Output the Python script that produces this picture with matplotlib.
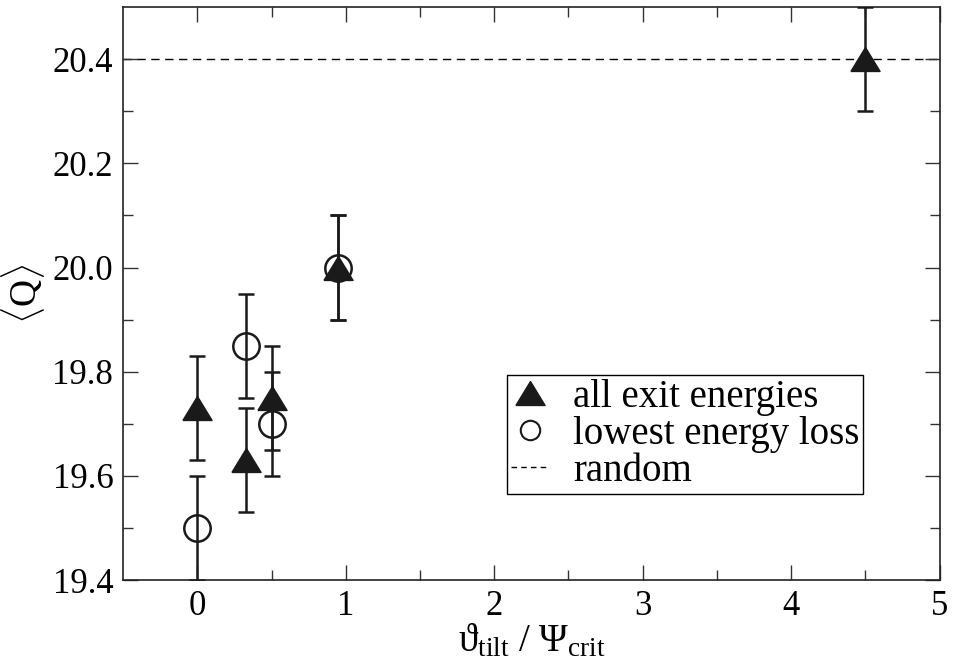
import matplotlib.pyplot as plt
from matplotlib.lines import Line2D

plt.rcParams['font.family'] = ['Liberation Serif', 'DejaVu Serif']
plt.rcParams['mathtext.fontset'] = 'custom'
plt.rcParams['mathtext.rm'] = 'Liberation Serif'
plt.rcParams['mathtext.it'] = 'Liberation Serif:italic'

# all exit energies (filled triangles)
tri_x = [0.0, 0.33, 0.5, 0.95, 4.5]
tri_y = [19.73, 19.63, 19.75, 20.0, 20.4]
tri_err = [0.1, 0.1, 0.1, 0.1, 0.1]

# lowest energy loss (open circles)
circ_x = [0.0, 0.33, 0.5, 0.95]
circ_y = [19.5, 19.85, 19.7, 20.0]
circ_err = [0.1, 0.1, 0.1, 0.1]

random_level = 20.4

# slightly flattened triangle like the original
tri_marker = [(-1, -0.82), (1, -0.82), (0, 0.82), (-1, -0.82)]

fig = plt.figure(figsize=(9.54, 6.67), dpi=100)
ax = fig.add_axes([0.129, 0.1304, 0.856, 0.859])

ax.axhline(random_level, color='black', linestyle=(0, (6, 4)), linewidth=1.0, zorder=1)

ax.errorbar(circ_x, circ_y, yerr=circ_err, fmt='o', color='#1a1a1a',
            markerfacecolor='none', markeredgewidth=1.8, markersize=19,
            elinewidth=1.8, capsize=6, capthick=1.8, zorder=2)
ax.errorbar(tri_x, tri_y, yerr=tri_err, fmt='none', ecolor='#1a1a1a',
            elinewidth=1.8, capsize=6, capthick=1.8, zorder=3)
ax.plot(tri_x, tri_y, linestyle='none', marker=tri_marker, color='#1a1a1a',
        markersize=21, zorder=4)

ax.set_xlim(-0.5, 5)
ax.set_ylim(19.4, 20.5)
ax.set_xticks([0, 1, 2, 3, 4, 5])
ax.set_xticks([0.5, 1.5, 2.5, 3.5, 4.5], minor=True)
ax.set_yticks([19.4, 19.6, 19.8, 20.0, 20.2, 20.4])
ax.set_yticks([19.5, 19.7, 19.9, 20.1, 20.3], minor=True)
ax.set_yticklabels(['19.4', '19.6', '19.8', '20.0', '20.2', '20.4'])
ax.tick_params(which='both', direction='in', top=True, right=True, labelsize=25,
               color='#333333')
ax.tick_params(which='major', length=11, width=1.0, pad=7)
ax.tick_params(which='minor', length=7, width=1.0)
for s in ax.spines.values():
    s.set_linewidth(1.2)
    s.set_color('#222222')

ax.set_xlabel(r'$\mathrm{\vartheta_{tilt}\ /\ \Psi_{crit}}$', fontsize=28, labelpad=0)
ax.set_ylabel(r'$\langle\mathrm{Q}\rangle$', fontsize=27, labelpad=4)

handles = [
    Line2D([], [], marker=tri_marker, linestyle='none', color='#1a1a1a', markersize=21),
    Line2D([], [], marker='o', linestyle='none', color='#1a1a1a',
           markerfacecolor='none', markeredgewidth=1.5, markersize=14),
    Line2D([], [], color='black', linestyle=(0, (4, 3)), linewidth=1.0),
]
labels = ['all exit energies', 'lowest energy loss', 'random']
leg = ax.legend(handles, labels, loc='upper left', bbox_to_anchor=(0.47, 0.358),
                fontsize=28, frameon=True, fancybox=False, edgecolor='black',
                framealpha=1, handlelength=1.0, handletextpad=0.6,
                borderpad=0.1, labelspacing=0.0, borderaxespad=0)
leg.get_frame().set_linewidth(1.0)

fig.savefig('out.png', dpi=100)
